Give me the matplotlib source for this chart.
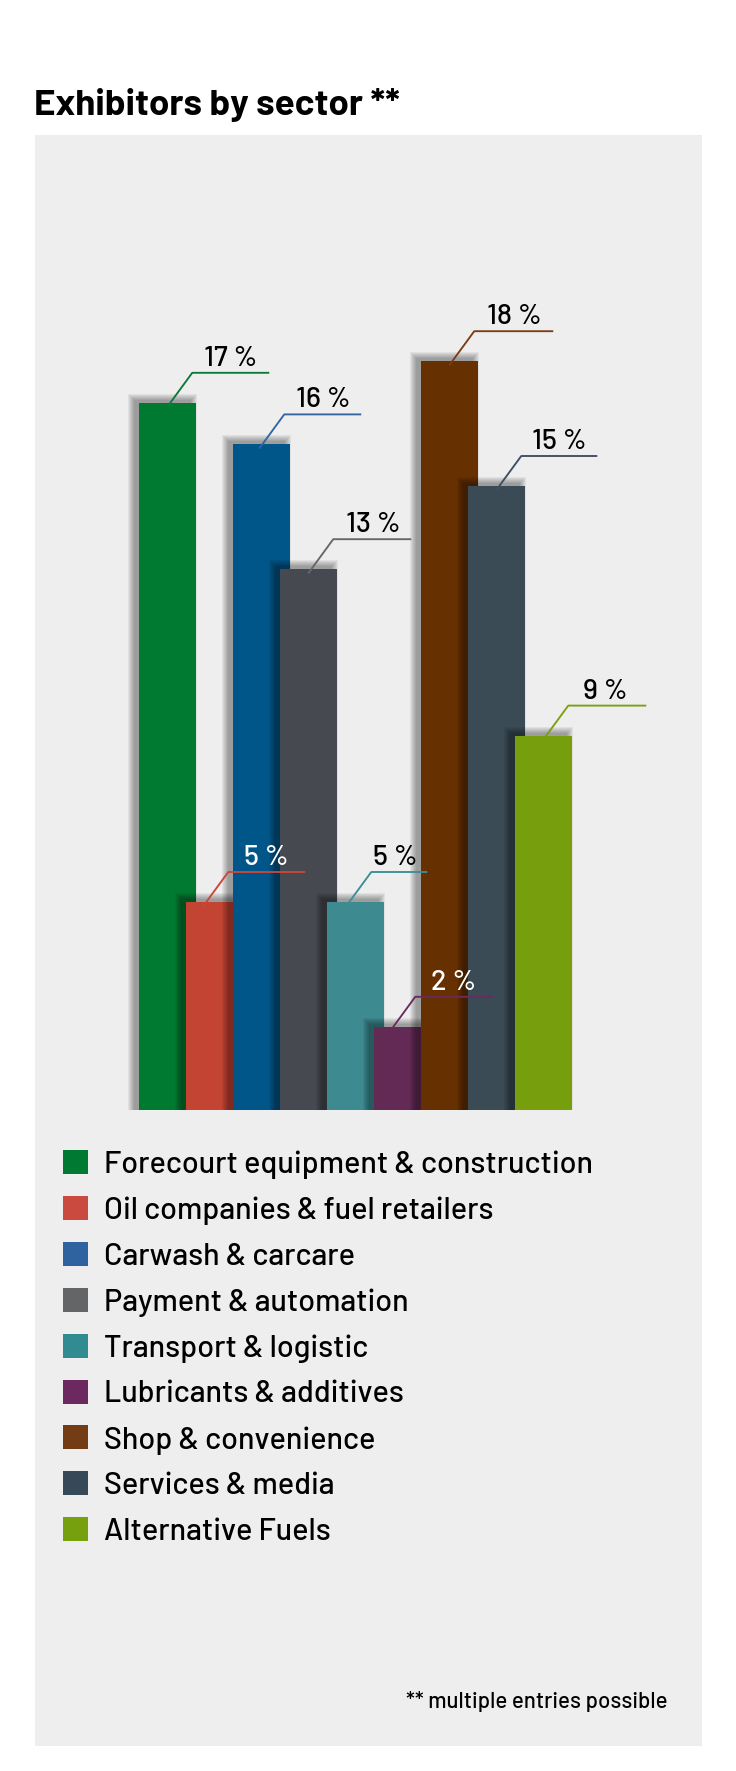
import matplotlib
matplotlib.use('Agg')
import matplotlib.pyplot as plt
from matplotlib.patches import Rectangle
import numpy as np

plt.rcParams['font.family'] = ['Barlow', 'DejaVu Sans']

sectors = ['Forecourt equipment & construction', 'Oil companies & fuel retailers',
           'Carwash & carcare', 'Payment & automation', 'Transport & logistic',
           'Lubricants & additives', 'Shop & convenience', 'Services & media',
           'Alternative Fuels']
shares = [17, 5, 16, 13, 5, 2, 18, 15, 9]
labels = ['17 %', '5 %', '16 %', '13 %', '5 %', '2 %', '18 %', '15 %', '9 %']

bar_colors = ['#007a30', '#c44433', '#005689', '#464a50', '#3d8a90',
              '#632a55', '#663000', '#3a4b55', '#779e0c']
line_colors = ['#0a7a3a', '#c9473a', '#3365a0', '#666666', '#3a8f95',
               '#6a2a5e', '#7a3d14', '#3d4f60', '#7aa010']
legend_colors = ['#007a33', '#cb4a40', '#2e63a0', '#646567', '#318c91',
                 '#6b2960', '#743c14', '#374958', '#77a00f']
label_colors = ['black', 'white', 'black', 'black', 'black', 'white',
                'black', 'black', 'black']

# leader line layout in pixels: start shift from bar centre, horizontal length, text gap
lead_start = [0, -11, -2, 0, -9, -12, 0, 0, 0]
lead_len = [77, 77, 77, 78, 56, 78, 79, 76, 78]
text_gap = [12, 16, 12, 13, 2, 16, 13, 11, 15]

W, H = 736, 1771
fig = plt.figure(figsize=(W / 100, H / 100), dpi=100)
fig.patch.set_facecolor('white')

def fx(x):
    return x / W

def fy(y):
    return 1 - y / H

# grey panel
fig.add_artist(Rectangle((fx(35), fy(1746)), fx(702) - fx(35), fy(135) - fy(1746),
                         transform=fig.transFigure, facecolor='#eeeeee',
                         edgecolor='none', zorder=0))

fig.text(fx(34), fy(115), 'Exhibitors by sector **', fontsize=26.5,
         fontweight='bold', va='baseline', ha='left')

# bar area, 47 px per bar step, 41.6 px per percent
step_px, unit_px, base_px, left0 = 47.0, 41.6, 1110, 139
bar_w = 56.5 / step_px
ytop = 22
ax = fig.add_axes([0, fy(base_px), 1, ytop * unit_px / H])
x0 = (left0 + 56.5 / 2) / step_px
ax.set_xlim(-x0, W / step_px - x0)
ax.set_ylim(0, ytop)
ax.axis('off')
ax.patch.set_alpha(0)

x = np.arange(len(shares))
for i, v in enumerate(shares):
    # soft shadow, shifted up and to the left
    for e in range(0, 7):
        ax.add_patch(Rectangle((x[i] - bar_w / 2 - (5 + e) / step_px, 0),
                               bar_w + 2 * e / step_px, v + (3 + e) / unit_px,
                               facecolor='black', edgecolor='none',
                               alpha=0.055, zorder=2 * i + 1))
    ax.bar(x[i], v, width=bar_w, color=bar_colors[i], zorder=2 * i + 2)

    sx = x[i] + lead_start[i] / step_px
    cx = sx + 25 / step_px
    cy = v + 30 / unit_px
    ex = cx + lead_len[i] / step_px
    ax.plot([sx, cx, ex], [v - 0.1, cy, cy], color=line_colors[i], lw=1.35,
            zorder=30, solid_capstyle='butt')
    ax.text(cx + text_gap[i] / step_px, cy + 7 / unit_px, labels[i], fontsize=20.5,
            fontweight='medium', color=label_colors[i], ha='left', va='baseline',
            zorder=31)

# legend
for i, name in enumerate(sectors):
    yc = 1162 + i * 45.9
    fig.add_artist(Rectangle((fx(63), fy(yc + 12)), fx(25), 24 / H,
                             transform=fig.transFigure, facecolor=legend_colors[i],
                             edgecolor='none'))
    fig.text(fx(104), fy(yc), name, fontsize=22, fontweight='medium',
             va='center_baseline', ha='left')

fig.text(fx(668), fy(1708), '** multiple entries possible', fontsize=16,
         fontweight='medium', ha='right', va='baseline')

fig.savefig('out.png', dpi=100)
